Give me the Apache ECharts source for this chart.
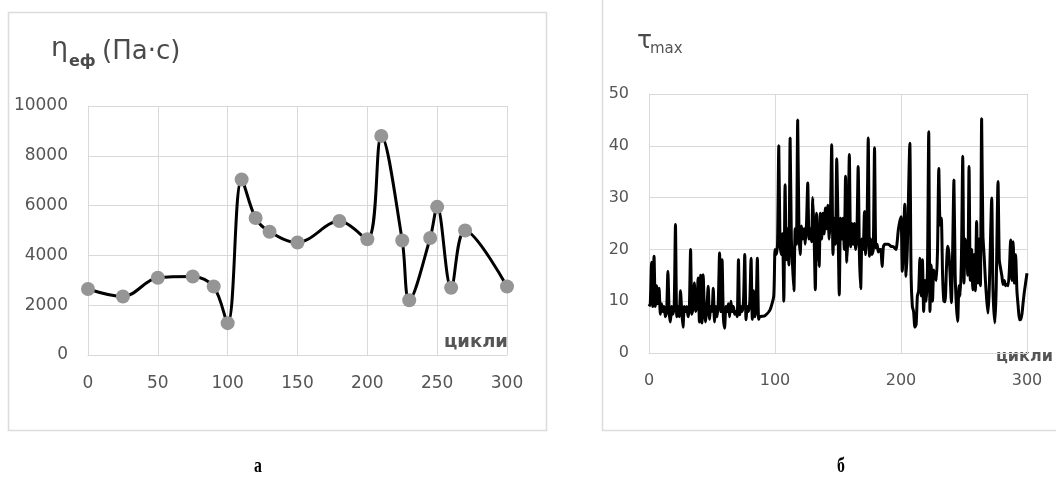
<!DOCTYPE html>
<html>
<head>
<meta charset="utf-8">
<script src="https://cdn.jsdelivr.net/npm/echarts@6/dist/echarts.min.js"></script>
<style>
  html, body { margin: 0; padding: 0; background: #fff; }
  #chart { width: 1056px; height: 478px; }
</style>
</head>
<body>
<div id="chart"></div>
<script>
// chart а: effective viscosity vs cycles
const etaCycles = [0, 25, 50, 75, 90, 100, 110, 120, 130, 150, 180, 200, 210, 225, 230, 245, 250, 260, 270, 300];
const etaValues = [2650, 2350, 3100, 3150, 2750, 1280, 7050, 5500, 4950, 4520, 5380, 4650, 8800, 4600, 2200, 4700, 5950, 2700, 5000, 2750];

// chart б: tau max vs cycles
const tauCycles = [
  0, 1, 2, 3, 4, 5, 6, 7, 8, 9, 10, 11, 12, 13, 14, 15, 16, 17, 18, 19,
  20, 21, 22, 23, 24, 25, 26, 27, 28, 29, 30, 31, 32, 33, 34, 35, 36, 37, 38, 39,
  40, 41, 42, 43, 44, 45, 46, 47, 48, 49, 50, 51, 52, 53, 54, 55, 56, 57, 58, 59,
  60, 61, 62, 63, 64, 65, 66, 67, 68, 69, 70, 71, 72, 73, 74, 75, 76, 77, 78, 79,
  80, 81, 82, 83, 84, 85, 86, 87, 88, 92, 96, 99,
  100, 101, 102, 103, 104, 105, 106, 107, 108, 109, 110, 111, 112, 113, 114, 115, 116, 117, 118, 119,
  120, 121, 122, 123, 124, 125, 126, 127, 128, 129, 130, 131, 132, 133, 134, 135, 136, 137, 138, 139,
  140, 141, 142, 143, 144, 145, 146, 147, 148, 149, 150, 151, 152, 153, 154, 155, 156, 157, 158, 159,
  160, 161, 162, 163, 164, 165, 166, 167, 168, 169, 170, 171, 172, 173, 174, 175, 176, 177, 178, 179,
  180, 181, 182, 183, 184, 185, 186, 187, 188, 190, 192, 194, 196, 198,
  200, 201, 203, 204, 205, 207, 208, 209, 210, 211, 212, 213, 214, 215, 216, 217, 218, 219,
  220, 221, 222, 223, 224, 225, 226, 227, 228, 229, 230, 231, 232, 233, 234, 235, 236, 237, 238, 239,
  240, 241, 242, 243, 244, 245, 246, 247, 248, 249, 250, 251, 252, 253, 254, 255, 256, 257, 258, 259,
  260, 261, 262, 263, 264, 265, 266, 267, 268, 269, 270, 272, 273, 274.5, 275.5, 277, 278, 279,
  280, 281, 282, 283, 284, 285, 286, 287, 288, 289, 290, 291, 292, 293, 294, 295, 296, 297, 298, 300
];
const tauValues = [
  9, 9.5, 17.5, 9, 18.7, 9, 13, 9.5, 12.5, 7.5, 9.5, 8, 9, 7, 8, 15.8, 8, 6, 9, 7.5,
  9, 24.8, 7, 9, 7, 12, 8, 5, 9, 8, 9, 7, 8.5, 20, 7.5, 9, 13.5, 8, 9, 14.5,
  6, 15, 5.8, 15.1, 8, 6, 9, 12.9, 6.5, 9, 8, 12.5, 6, 9, 7, 10, 19.3, 8, 18, 7,
  4.8, 9, 8, 9.5, 7, 10, 8, 9, 7.5, 8, 7, 18, 7.4, 9, 8, 10, 19, 6.4, 9, 8,
  10, 18.3, 6.5, 12, 7, 9, 18.3, 6.5, 7, 7.2, 8.3, 11,
  20, 19, 21, 40, 21, 19, 23, 10, 32.5, 18, 24, 17, 41.5, 22, 16.5, 12, 24, 21, 45, 24,
  19, 24.5, 22, 24, 21, 25, 32.8, 22, 24, 21.5, 30, 23, 12.2, 27, 21, 16.7, 27, 22, 27, 23,
  28, 24, 28.5, 22, 27, 40.2, 19, 26, 21, 37.5, 25, 11.2, 26, 22, 26, 20, 34.1, 17.5, 24, 38.3,
  20.5, 25, 21, 25, 20, 23, 36, 19, 12.4, 22, 20, 27.3, 19, 24, 41.5, 18.7, 22, 19, 20, 39.6,
  20.3, 21, 19.5, 20, 20, 16.7, 20.5, 21, 21, 21, 20.6, 20.5, 20, 24,
  26.3, 15.8, 28.7, 14.8, 20, 40.5, 15, 9, 8, 5, 5.5, 11, 12, 18.3, 11, 18, 8, 14,
  10, 16, 42.7, 8, 17, 10, 16, 15, 14, 20, 35.6, 24.7, 26, 15, 10, 9.9, 16, 20.6, 19.3, 15,
  9.7, 20, 33.4, 15, 9, 6.1, 13, 11, 19, 38, 13.5, 22, 20, 15, 36, 14, 20, 12.2, 19, 12,
  25.4, 13.5, 22, 13, 45.2, 22.8, 18.7, 14, 10.3, 7.7, 12, 29.9, 12.2, 5.8, 12, 33.1, 18, 16.4,
  15, 13.2, 14, 13, 13.2, 13, 16, 21.8, 14, 21.5, 13.5, 19, 12, 9, 6.4, 6.5, 7.5, 9.9, 12, 15.4
];

const gridColor = '#d9d9d9';
const labelColor = '#555555';
const font = '"DejaVu Sans", sans-serif';

function axisLabel(size) {
  return { color: labelColor, fontSize: size, fontFamily: font, margin: 20, formatter: v => String(v) };
}

function valueAxis(grid, max, interval, size) {
  return {
    gridIndex: grid, type: 'value', min: 0, max: max, interval: interval,
    axisLine: { show: true, lineStyle: { color: gridColor } },
    axisTick: { show: false },
    axisLabel: axisLabel(size),
    splitLine: { show: true, lineStyle: { color: gridColor } }
  };
}

const chart = echarts.init(document.getElementById('chart'));

chart.setOption({
  backgroundColor: '#fff',
  animation: false,
  grid: [
    { left: 88, top: 106, width: 419, height: 249 },
    { left: 649, top: 94, width: 378, height: 259 }
  ],
  xAxis: [valueAxis(0, 300, 50, 17), valueAxis(1, 300, 100, 16)],
  yAxis: [valueAxis(0, 10000, 2000, 17), valueAxis(1, 50, 10, 16)],
  series: [
    {
      type: 'line',
      xAxisIndex: 0, yAxisIndex: 0,
      data: etaCycles.map((c, i) => [c, etaValues[i]]),
      smooth: 0.35,
      symbol: 'circle',
      symbolSize: 14,
      itemStyle: { color: '#959595' },
      lineStyle: { color: '#000', width: 3 },
      z: 3
    },
    {
      type: 'line',
      xAxisIndex: 1, yAxisIndex: 1,
      data: tauCycles.map((c, i) => [c, tauValues[i]]),
      smooth: 0.2,
      showSymbol: false,
      lineStyle: { color: '#000', width: 3 }
    }
  ],
  graphic: [
    // frames
    { type: 'rect', shape: { x: 8.5, y: 12.5, width: 538, height: 418 }, style: { fill: 'none', stroke: '#dcdcdc', lineWidth: 1.5 }, z: -1 },
    { type: 'rect', shape: { x: 602.5, y: -2, width: 470, height: 432.5 }, style: { fill: 'none', stroke: '#dcdcdc', lineWidth: 1.5 }, z: -1 },
    // titles
    { type: 'text', x: 51, y: 49, style: { text: 'η', fontSize: 27, fontFamily: font, fill: '#4a4a4a', verticalAlign: 'middle' } },
    { type: 'text', x: 69, y: 62, style: { text: 'еф', fontSize: 16, fontWeight: 'bold', fontFamily: font, fill: '#4a4a4a', verticalAlign: 'middle' } },
    { type: 'text', x: 102, y: 52, style: { text: '(Па·с)', fontSize: 26, fontFamily: font, fill: '#4a4a4a', verticalAlign: 'middle' } },
    { type: 'text', x: 637, y: 41, style: { text: 'τ', fontSize: 25, fontFamily: font, fill: '#4a4a4a', verticalAlign: 'middle' } },
    { type: 'text', x: 650, y: 49, style: { text: 'max', fontSize: 15, fontFamily: font, fill: labelColor, verticalAlign: 'middle' } },
    // axis names
    { type: 'text', x: 444, y: 342, style: { text: 'цикли', fontSize: 18, fontWeight: 'bold', fontFamily: font, fill: labelColor, verticalAlign: 'middle' } },
    { type: 'text', x: 996, y: 357, style: { text: 'цикли', fontSize: 16, fontWeight: 'bold', fontFamily: font, fill: labelColor, verticalAlign: 'middle' } },
    // panel letters
    { type: 'text', x: 258, y: 467, scaleX: 0.75, style: { text: 'а', fontSize: 21, fontWeight: 'bold', fontFamily: '"Liberation Serif", serif', fill: '#000', align: 'center', verticalAlign: 'middle' } },
    { type: 'text', x: 841, y: 467, scaleX: 0.75, style: { text: 'б', fontSize: 21, fontWeight: 'bold', fontFamily: '"Liberation Serif", serif', fill: '#000', align: 'center', verticalAlign: 'middle' } }
  ]
});
</script>
</body>
</html>
